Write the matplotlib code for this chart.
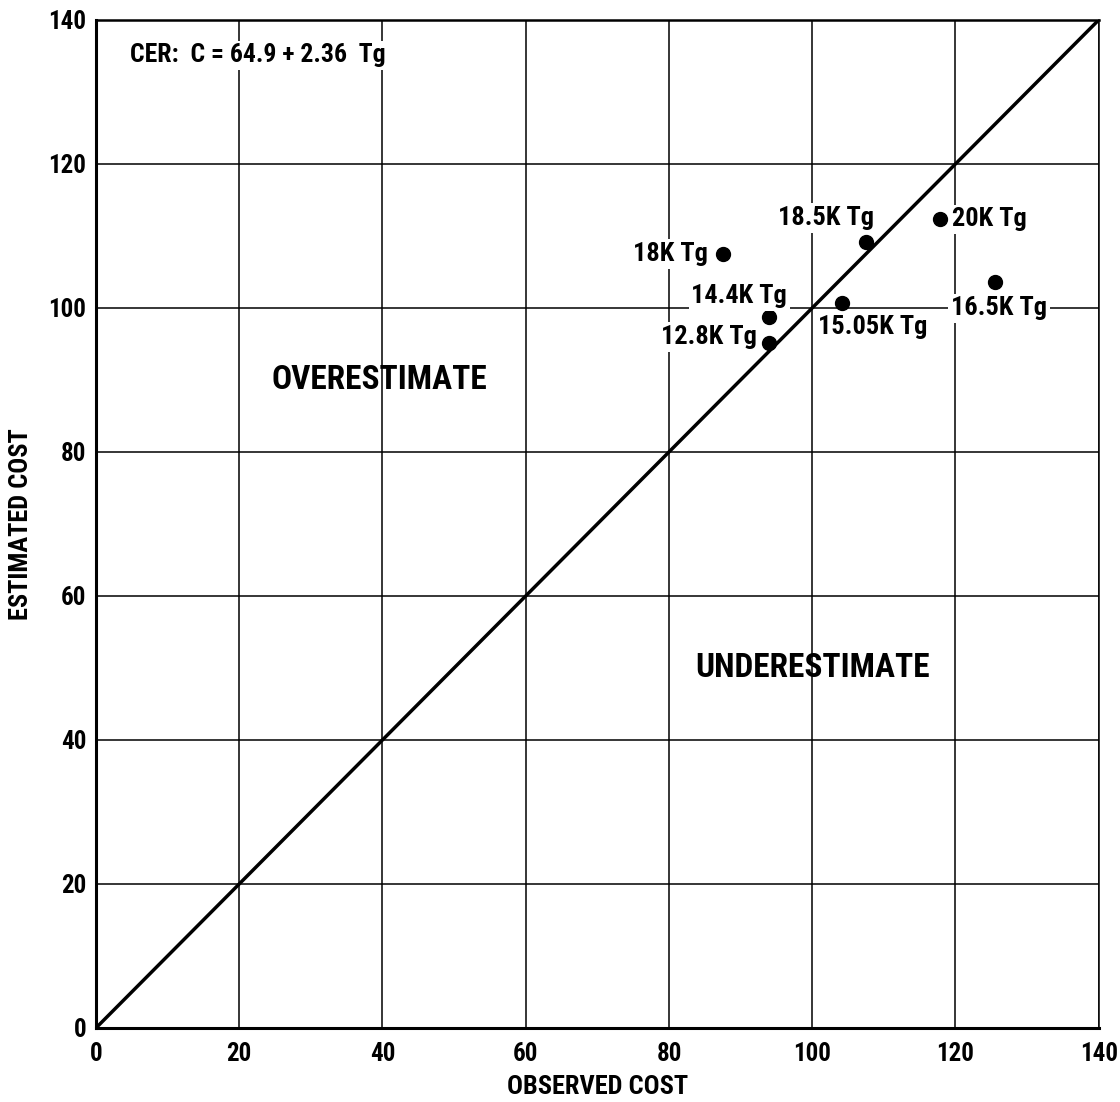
import matplotlib
matplotlib.use("Agg")
import matplotlib.pyplot as plt
from matplotlib import font_manager

names = {f.name for f in font_manager.fontManager.ttflist}
FAM = [n for n in ['Roboto Condensed', 'Archivo Narrow', 'Barlow Condensed'] if n in names][:1] + ['DejaVu Sans']
plt.rcParams['font.family'] = FAM
plt.rcParams['font.weight'] = 'bold'

# Data
labels = ["18K Tg", "18.5K Tg", "20K Tg", "16.5K Tg", "14.4K Tg", "15.05K Tg", "12.8K Tg"]
observed = [87.5, 107.5, 117.8, 125.5, 93.9, 104.2, 94.0]
estimated = [107.5, 109.2, 112.3, 103.6, 98.7, 100.7, 95.2]
ticks = [0, 20, 40, 60, 80, 100, 120, 140]

# label placement (offset in points, alignment)
label_pos = {
    "18K Tg": ((-11, 0), 'right'),
    "18.5K Tg": ((-29, 17), 'center'),
    "20K Tg": ((9, 0), 'left'),
    "16.5K Tg": ((3, -19), 'center'),
    "14.4K Tg": ((-21, 15), 'center'),
    "15.05K Tg": ((22, -17), 'center'),
    "12.8K Tg": ((-9, 4), 'right'),
}

fig = plt.figure(figsize=(11.2, 11.02), dpi=100)
ax = fig.add_axes([0.0857, 0.0672, 0.981 - 0.0857, 0.9819 - 0.0672])
ax.set_xlim(0, 140)
ax.set_ylim(0, 140)
ax.set_xticks(ticks)
ax.set_yticks(ticks)
ax.set_xticklabels([str(t) for t in ticks])
ax.set_yticklabels([str(t) for t in ticks])
ax.tick_params(length=0, labelsize=18, pad=10, axis='x')
ax.tick_params(length=0, labelsize=18, pad=7, axis='y')
for t in ax.get_xticklabels() + ax.get_yticklabels():
    t.set_fontweight('bold')

ax.grid(True, color='black', lw=1.1)
ax.set_axisbelow(True)
ax.spines['left'].set_linewidth(2.2)
ax.spines['bottom'].set_linewidth(2.2)
ax.spines['top'].set_linewidth(1.8)
ax.spines['right'].set_linewidth(1.1)

ax.plot([0, 140], [0, 140], color='black', lw=2.5, zorder=3)
ax.scatter(observed, estimated, s=100, color='black', zorder=4)

for lab, x, y in zip(labels, observed, estimated):
    off, ha = label_pos[lab]
    ax.annotate(lab, (x, y), xytext=off, textcoords='offset points',
                ha=ha, va='center', fontsize=19, fontweight='bold', zorder=5,
                bbox=dict(boxstyle='square,pad=0.1', fc='white', ec='none'))

ax.text(0.034, 0.965, "CER:  C = 64.9 + 2.36  Tg", transform=ax.transAxes,
        ha='left', va='center', fontsize=18.5, fontweight='bold',
        bbox=dict(boxstyle='square,pad=0.1', fc='white', ec='none'), zorder=5)

ax.text(39.6, 90, "OVERESTIMATE", ha='center', va='center', fontsize=24, fontweight='bold')
ax.text(100, 50, "UNDERESTIMATE", ha='center', va='center', fontsize=24, fontweight='bold')

ax.set_xlabel("OBSERVED COST", fontsize=19, fontweight='bold')
ax.set_ylabel("ESTIMATED COST", fontsize=19, fontweight='bold')
ax.xaxis.set_label_coords(0.5, -0.047)
ax.yaxis.set_label_coords(-0.063, 0.5)

fig.savefig("out.png", dpi=100, facecolor='white')
